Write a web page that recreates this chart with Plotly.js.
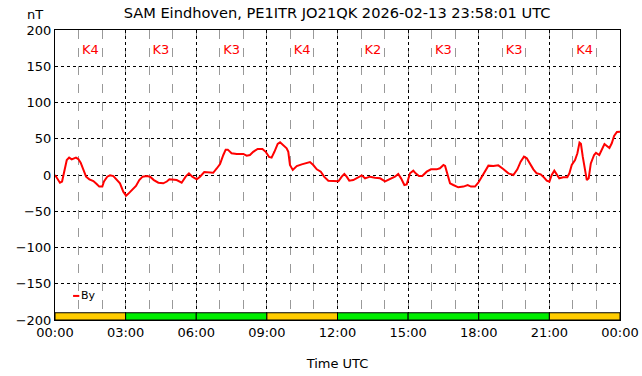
<!DOCTYPE html>
<html>
<head>
<meta charset="utf-8">
<script src="https://cdn.plot.ly/plotly-3.0.1.min.js"></script>
<style>html,body{margin:0;padding:0;background:#fff;}#chart{width:642px;height:376px;}</style>
</head>
<body>
<div id="chart"></div>
<script>
// Time in hours (UTC) since 2026-02-13 00:00
const hours = [0,0.1,0.21,0.3,0.38,0.5,0.6,0.71,0.89,0.99,1.09,1.2,1.32,1.46,1.63,1.77,1.88,2.01,2.08,2.22,2.34,2.48,2.62,2.76,2.9,3.02,3.11,3.26,3.44,3.58,3.72,3.9,4.04,4.2,4.39,4.6,4.75,4.86,
4.96,5.17,5.38,5.55,5.69,5.83,6.02,6.16,6.34,6.51,6.72,6.87,7.01,7.15,7.25,7.34,7.5,7.72,8.0,8.14,8.28,8.42,8.61,8.81,8.95,9.09,9.2,9.32,9.46,9.56,9.7,9.84,9.91,9.98,
10.1,10.27,10.48,10.69,10.83,10.97,11.12,11.29,11.43,11.61,11.82,12.04,12.18,12.29,12.39,12.5,12.67,12.84,13.03,13.17,13.38,13.59,13.81,14.02,14.23,14.44,14.58,
14.7,14.84,14.94,15.08,15.22,15.32,15.46,15.6,15.79,15.97,16.21,16.35,16.5,16.57,16.68,16.78,16.92,17.13,17.35,17.53,17.67,17.84,17.98,18.13,18.27,18.41,18.62,18.83,19.04,19.26,19.47,
19.64,19.78,19.92,20.04,20.18,20.32,20.46,20.63,20.74,20.89,21.0,21.1,21.21,21.31,21.42,21.59,21.76,21.85,21.95,22.09,22.19,22.28,22.34,22.42,22.52,22.59,22.67,22.76,22.9,22.98,23.12,23.22,23.34,23.47,23.55,23.65,23.75,23.87,24.0];
const byValues = [0,-6,-10.6,-9,4.6,20.7,24,21.6,24,22,17,7,-2.3,-6,-8.3,-12.4,-16,-16,-9,-2.3,-0.5,-1.5,-6,-11.5,-23,-28.5,-26,-20.7,-15,-7,-2.3,-1.5,-2.3,-7,-10.6,-11.5,-9,-6,
-6,-7,-10.6,-2.3,2.3,-2.3,-6,-2.3,4,4,3,9,15,27.6,35,35,30,29,29,26.7,27.6,32,35.9,35.9,32,25,24,32,42.8,45,41,36.8,32,13.8,
7,12.4,14.7,17,17.9,13.8,7.8,4.6,-2.3,-7.8,-8,-8.7,-2.3,1.4,-2.3,-7.8,-7,-3.7,-0.5,-4.6,-2.3,-3.7,-4.6,-8.7,-5.5,-2.3,1.4,
-4.6,-13.8,-12.9,2.3,6,2.3,-1.4,-1.4,4.6,7.8,7.8,9.2,13.8,12.4,-2.3,-11.5,-13.8,-17,-16,-14,-16,-16,-10.6,-2.3,7,12.9,12.4,13.3,8.3,2.3,0,
7.8,18.4,25.3,23,15,7.8,2.3,0.9,-2.3,-7.8,-9.2,0,6,0,-4.6,-3.2,-3.2,2.3,13.8,20.7,30,44.6,43,25,2.3,-7,-4.6,16,27.6,30.6,27.6,34.5,42.8,39.3,37.2,43.7,53.8,59.3,59.8];

// 3-hour K-index blocks
const kStart = [0,3,6,9,12,15,18,21];
const kIndex = [4,3,3,4,2,3,3,4];
const kLabels = ["K4","K3","K3","K4","K2","K3","K3","K4"];
const xTickVals = [0,3,6,9,12,15,18,21,24];
const xTickText = ["00:00","03:00","06:00","09:00","12:00","15:00","18:00","21:00","00:00"];
const yTickVals = [-200,-150,-100,-50,0,50,100,150,200];
const seriesName = "By";

const kCenters = kStart.map(s => s + 1.5);
const kColors = kIndex.map(k => k >= 4 ? "#ffcc00" : "#00ee00");

const font = "DejaVu Sans, sans-serif";

const traces = [
  {
    type: "bar", x: kCenters, y: kIndex.map(() => 10), base: -200, width: 3,
    marker: {color: kColors, line: {color: "#000", width: 1}},
    showlegend: false, hoverinfo: "skip"
  },
  {
    type: "scatter", mode: "text", x: kCenters, y: kIndex.map(() => 172),
    text: kLabels, textfont: {color: "#ff0000", size: 13, family: font},
    showlegend: false, hoverinfo: "skip"
  },
  {
    type: "scatter", mode: "lines", name: seriesName, x: hours, y: byValues,
    line: {color: "#ff0000", width: 2}, showlegend: false
  }
];

const layout = {
  width: 642, height: 376,
  margin: {l: 55, r: 22, t: 30, b: 56},
  paper_bgcolor: "#fff", plot_bgcolor: "#fff",
  font: {family: font, size: 13, color: "#000"},
  title: {text: "SAM Eindhoven, PE1ITR JO21QK 2026-02-13 23:58:01 UTC", font: {size: 14.6, family: font}, x: 0.525, xanchor: "center", y: 0.965, yanchor: "middle"},
  showlegend: false,
  xaxis: {
    range: [0, 24], tickvals: xTickVals, ticktext: xTickText,
    showline: true, mirror: true, linecolor: "#000", linewidth: 1,
    showgrid: true, gridcolor: "#000", griddash: "dot", gridwidth: 1,
    minor: {dtick: 1, tick0: 0, showgrid: true, gridcolor: "#999", griddash: "dash", gridwidth: 1},
    zeroline: false, ticks: "", tickfont: {size: 13},
    title: {text: "Time UTC", font: {size: 13}, standoff: 20}
  },
  yaxis: {
    range: [-200, 200], tickvals: yTickVals,
    showline: true, mirror: true, linecolor: "#000", linewidth: 1,
    showgrid: true, gridcolor: "#000", griddash: "dot", gridwidth: 1,
    zeroline: false, ticks: "", tickfont: {size: 13}
  },
  shapes: [
    // legend swatch
    {type: "line", xref: "paper", yref: "paper", x0: 0.032, x1: 0.043, y0: 0.083, y1: 0.083, line: {color: "#ff0000", width: 2}}
  ],
  annotations: [
    {text: "nT", xref: "paper", yref: "paper", x: -0.035, y: 1.055, xanchor: "center", yanchor: "middle", showarrow: false, font: {size: 13}},
    {text: seriesName, xref: "paper", yref: "paper", x: 0.043, y: 0.083, xanchor: "left", yanchor: "middle", showarrow: false, font: {size: 11}}
  ],
  bargap: 0
};

Plotly.newPlot("chart", traces, layout, {displayModeBar: false, staticPlot: true});
</script>
</body>
</html>
